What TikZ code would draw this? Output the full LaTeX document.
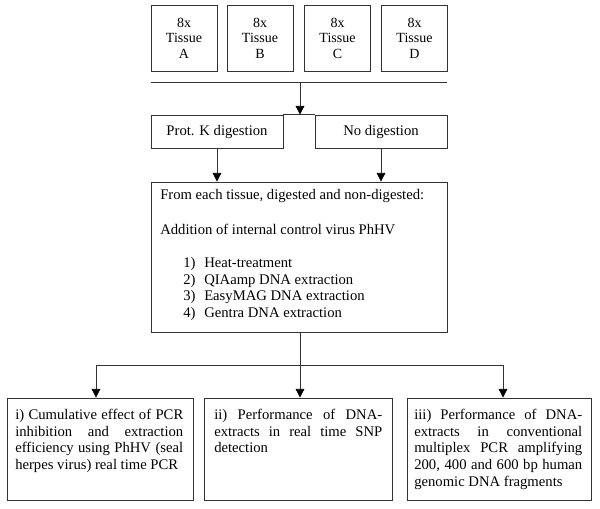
\documentclass[tikz,border=0pt]{standalone}
\usepackage{fontspec}
\setmainfont{Liberation Serif}
\usetikzlibrary{arrows.meta}
\begin{document}
\begin{tikzpicture}[x=0.75pt,y=-0.75pt,
  box/.style={draw=black!80, line width=0.6pt, inner sep=0pt},
  conn/.style={draw=black!80, line width=0.6pt},
  arr/.style={conn,-{Triangle[width=6.5pt,length=6.5pt,color=black]}},
  tissue/.style={box, minimum width=49.5pt, minimum height=49.5pt, align=center, font=\fontsize{10.5}{11.6}\selectfont},
  digbox/.style={box, minimum width=99pt, minimum height=24.75pt},
  resbox/.style={box, minimum height=76.5pt},
  restext/.style={anchor=north west, inner sep=0pt, text width=126pt, align=justify},
  font=\fontsize{11}{12.5}\selectfont]
\useasboundingbox (0,0) rectangle (600,509);
% tissues
\node[tissue] (ta) at (184,38) {8x\\Tissue\\A};
\node[tissue] (tb) at (260,38) {8x\\Tissue\\B};
\node[tissue] (tc) at (337.5,38) {8x\\Tissue\\C};
\node[tissue] (td) at (414.5,38) {8x\\Tissue\\D};
% separator line
\coordinate (hl) at (151,82);
\coordinate (hr) at (447,82);
\coordinate (hm) at (300,82);
\draw[conn] (hl) -- (hr);
% digestion
\node[digbox] (pk) at (217,131.5) {Prot. K digestion};
\node[digbox] (nd) at (381,131.5) {No digestion};
\draw[conn] (pk.north east) -- (nd.north west);
\draw[arr] (hm) -- (hm |- pk.north);
% big box
\node[box, minimum width=222pt, minimum height=112.5pt] (big) at (299,257) {};
\node[anchor=north west, inner sep=0pt, align=left] (bigtext) at (160,189) {%
From each tissue, digested and non-digested:\\[13.75pt]
Addition of internal control virus PhHV\\[12.25pt]
\hspace*{17.25pt}\makebox[15.75pt][l]{1)}Heat-treatment\\
\hspace*{17.25pt}\makebox[15.75pt][l]{2)}QIAamp DNA extraction\\
\hspace*{17.25pt}\makebox[15.75pt][l]{3)}EasyMAG DNA extraction\\
\hspace*{17.25pt}\makebox[15.75pt][l]{4)}Gentra DNA extraction};
\draw[arr] (pk.south) -- (pk.south |- big.north);
\draw[arr] (nd.south) -- (nd.south |- big.north);
% results
\node[resbox, minimum width=139.5pt] (b1) at (100,449) {};
\node[resbox, minimum width=141pt] (b2) at (298,449) {};
\node[resbox, minimum width=138pt] (b3) at (499,449) {};
\node[restext] (t1) at (15,409) {i) Cumulative effect of PCR\linebreak inhibition and extraction\linebreak efficiency using PhHV (seal\linebreak herpes virus) real time PCR};
\node[restext] (t2) at (214,409) {ii) Performance of DNA-\linebreak extracts in real time SNP\linebreak detection};
\node[restext] (t3) at (414,409) {iii) Performance of DNA-\linebreak extracts in conventional\linebreak multiplex PCR amplifying\linebreak 200, 400 and 600 bp human\linebreak genomic DNA fragments};
\coordinate (j) at (300,365);
\coordinate (j1) at (96,365);
\coordinate (j3) at (503,365);
\draw[conn] (j |- big.south) -- (j);
\draw[conn] (j1) -- (j3);
\draw[arr] (j1) -- (j1 |- b1.north);
\draw[arr] (j) -- (j |- b2.north);
\draw[arr] (j3) -- (j3 |- b3.north);
\end{tikzpicture}
\end{document}
